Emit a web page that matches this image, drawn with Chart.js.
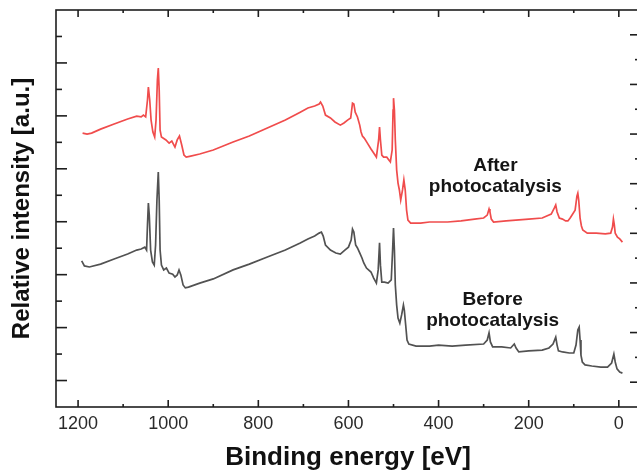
<!DOCTYPE html>
<html>
<head>
<meta charset="utf-8">
<script src="https://cdn.jsdelivr.net/npm/chart.js@4.4.1/dist/chart.umd.min.js"></script>
<style>
  html, body { margin: 0; padding: 0; overflow: hidden; background: #fff; }
</style>
</head>
<body>
<canvas id="xps" width="645" height="475"></canvas>
<script>
// XPS survey spectra (binding energy in eV, intensity in a.u.)
const afterEnergy = [1190, 1180, 1170, 1150, 1120, 1090, 1070, 1060, 1055, 1050, 1046, 1044, 1041, 1038, 1034, 1030, 1027, 1024, 1022, 1020, 1018, 1015, 1005, 998, 992, 985, 980, 975, 970, 965, 960, 950, 930, 900, 856, 820, 780, 740, 707, 690, 675, 665, 662, 657, 651, 640, 630, 618, 610, 602, 595, 591, 588, 585, 580, 575, 572, 569, 565, 558, 550, 544, 538, 533, 531, 529, 526, 522, 515, 507, 503, 501, 500, 498, 496, 493, 490, 487, 484, 480, 477, 474, 471, 468, 462, 440, 420, 400, 380, 350, 320, 300, 292, 288, 286, 283, 278, 250, 200, 170, 160, 150, 143, 140, 137, 132, 125, 118, 113, 108, 97, 93, 91, 89, 86, 83, 80, 70, 50, 30, 18, 14, 12, 10, 8, 3, -2, -8];
const afterIntensity = [10.35, 10.31, 10.35, 10.50, 10.69, 10.88, 10.99, 10.96, 11.03, 10.96, 11.60, 12.09, 11.60, 10.84, 10.39, 10.20, 10.84, 12.35, 12.81, 11.98, 10.46, 10.20, 10.09, 9.97, 10.05, 9.82, 10.09, 10.24, 9.90, 9.52, 9.44, 9.48, 9.56, 9.71, 10.01, 10.24, 10.54, 10.84, 11.14, 11.30, 11.37, 11.45, 11.52, 11.37, 11.03, 10.92, 10.77, 10.65, 10.73, 10.84, 10.92, 11.48, 11.45, 11.14, 10.96, 10.65, 10.39, 10.24, 10.16, 9.97, 9.75, 9.60, 9.44, 10.09, 10.58, 10.09, 9.52, 9.44, 9.44, 9.26, 9.71, 11.22, 11.67, 11.22, 10.09, 8.95, 8.46, 8.20, 7.82, 8.20, 8.58, 8.20, 7.44, 7.06, 6.95, 6.95, 6.99, 6.99, 6.99, 7.03, 7.10, 7.14, 7.25, 7.48, 7.37, 7.10, 6.99, 7.03, 7.10, 7.14, 7.22, 7.29, 7.52, 7.63, 7.37, 7.14, 7.10, 7.03, 7.03, 7.14, 7.44, 7.97, 8.08, 7.82, 7.14, 6.84, 6.69, 6.57, 6.57, 6.54, 6.57, 6.80, 7.10, 6.88, 6.57, 6.42, 6.35, 6.23];

const beforeEnergy = [1192, 1186, 1175, 1150, 1120, 1090, 1070, 1060, 1052, 1048, 1046, 1044, 1042, 1039, 1035, 1031, 1028, 1025, 1022, 1020, 1018, 1015, 1010, 1004, 998, 990, 985, 980, 976, 972, 967, 962, 955, 930, 900, 856, 820, 780, 740, 707, 690, 675, 665, 660, 656, 651, 640, 628, 618, 608, 600, 594, 591, 588, 584, 580, 575, 570, 566, 560, 550, 544, 538, 534, 531, 529, 526, 520, 512, 505, 502, 500, 498, 496, 493, 490, 486, 482, 478, 476, 473, 470, 466, 450, 420, 400, 370, 340, 300, 292, 288, 285, 280, 260, 240, 232, 228, 222, 200, 170, 155, 146, 140, 137, 134, 125, 110, 100, 95, 91, 88, 86, 84, 81, 75, 60, 40, 25, 16, 11, 8, 4, -2, -8];
const beforeIntensity = [5.52, 5.33, 5.29, 5.40, 5.59, 5.78, 5.93, 5.97, 6.04, 5.93, 6.88, 7.71, 7.25, 5.93, 5.48, 5.36, 6.12, 7.82, 8.88, 7.82, 5.93, 5.36, 5.18, 5.25, 5.06, 5.02, 4.91, 4.99, 5.18, 4.99, 4.61, 4.50, 4.53, 4.68, 4.84, 5.18, 5.40, 5.67, 5.93, 6.20, 6.35, 6.46, 6.57, 6.61, 6.46, 6.12, 5.93, 5.82, 5.78, 5.93, 6.04, 6.31, 6.72, 6.61, 6.12, 6.01, 5.82, 5.63, 5.44, 5.25, 5.10, 4.87, 4.68, 5.18, 6.20, 5.36, 4.72, 4.72, 4.68, 4.80, 5.93, 6.76, 5.93, 4.61, 3.85, 3.36, 3.17, 3.48, 3.85, 3.66, 3.10, 2.53, 2.38, 2.30, 2.30, 2.34, 2.30, 2.34, 2.38, 2.53, 2.80, 2.46, 2.27, 2.27, 2.23, 2.38, 2.23, 2.08, 2.12, 2.15, 2.23, 2.38, 2.64, 2.34, 2.12, 2.08, 2.04, 2.04, 2.34, 2.91, 3.02, 2.53, 1.96, 1.70, 1.59, 1.55, 1.51, 1.51, 1.66, 2.00, 1.70, 1.44, 1.32, 1.28];

const xTicks = [0, 100, 200, 300, 400, 500, 600, 700, 800, 900, 1000, 1100, 1200];
const yLeftTicks = [1, 2, 3, 4, 5, 6, 7, 8, 9, 10, 11, 12, 13, 14];
const yRightTicks = [1, 2, 3, 4, 5, 6, 7, 8, 9, 10, 11, 12, 13, 14, 15];

const notes = [
  { lines: ['After', 'photocatalysis'], x: 274, y: [9.12, 8.31] },
  { lines: ['Before', 'photocatalysis'], x: 280, y: [4.06, 3.25] }
];

const pts = (xs, ys) => xs.map((x, i) => ({ x, y: ys[i] }));

// frame, inward tick marks and the two text labels
const framePlugin = {
  id: 'frame',
  afterDatasetsDraw(chart) {
    const { ctx, chartArea: a, scales: { x, y, y2 } } = chart;
    const seg = (x1, y1, x2, y2_) => { ctx.beginPath(); ctx.moveTo(x1, y1); ctx.lineTo(x2, y2_); ctx.stroke(); };
    ctx.save();
    ctx.strokeStyle = '#1e1e1e';
    ctx.lineWidth = 1.6;
    ctx.strokeRect(a.left, a.top, a.right - a.left, a.bottom - a.top);

    xTicks.forEach(v => {
      const px = x.getPixelForValue(v);
      const len = v % 200 === 0 ? 7 : 3;
      seg(px, a.bottom, px, a.bottom - len);
      seg(px, a.top, px, a.top + len);
    });
    yLeftTicks.forEach(v => {
      const py = y.getPixelForValue(v);
      seg(a.left, py, a.left + (v % 2 ? 11 : 6), py);
    });
    yRightTicks.forEach(v => {
      const py = y2.getPixelForValue(v);
      seg(a.right, py, a.right - (v % 2 ? 10 : 5), py);
    });

    ctx.fillStyle = '#151515';
    ctx.font = 'bold 19px "Liberation Sans", Arial, sans-serif';
    ctx.textAlign = 'center';
    ctx.textBaseline = 'middle';
    notes.forEach(n => {
      n.lines.forEach((t, i) => ctx.fillText(t, x.getPixelForValue(n.x), y.getPixelForValue(n.y[i])));
    });
    ctx.restore();
  }
};

const font = '"Liberation Sans", Arial, sans-serif';

new Chart(document.getElementById('xps'), {
  type: 'line',
  data: {
    datasets: [
      { label: 'After photocatalysis', data: pts(afterEnergy, afterIntensity), borderColor: '#f04c4c', borderWidth: 1.7 },
      { label: 'Before photocatalysis', data: pts(beforeEnergy, beforeIntensity), borderColor: '#525252', borderWidth: 1.7 }
    ]
  },
  options: {
    responsive: false,
    animation: false,
    parsing: false,
    layout: { padding: { top: 10 } },
    elements: { point: { radius: 0 }, line: { tension: 0 } },
    plugins: { legend: { display: false }, tooltip: { enabled: false } },
    scales: {
      x: {
        type: 'linear',
        reverse: true,
        min: -47,
        max: 1249,
        grid: { display: false, drawTicks: false },
        border: { display: false },
        afterBuildTicks: s => { s.ticks = xTicks.map(value => ({ value })); },
        afterFit: s => { s.height = 68; },
        ticks: {
          autoSkip: false,
          maxRotation: 0,
          padding: 6,
          color: '#2a2a2a',
          font: { family: font, size: 18 },
          callback: v => (v % 200 === 0 ? String(v) : '')
        },
        title: {
          display: true,
          text: 'Binding energy [eV]',
          color: '#111',
          font: { family: font, size: 26, weight: 'bold' },
          padding: { top: 0, bottom: 2 }
        }
      },
      y: {
        position: 'left',
        min: 0,
        max: 15,
        grid: { display: false, drawTicks: false },
        border: { display: false },
        ticks: { display: false },
        afterFit: s => { s.width = 56; },
        title: {
          display: true,
          text: 'Relative intensity [a.u.]',
          color: '#111',
          font: { family: font, size: 24, weight: 'bold' },
          padding: { top: 8, bottom: 0 }
        }
      },
      y2: {
        position: 'right',
        min: 0,
        max: 16,
        grid: { display: false, drawTicks: false },
        border: { display: false },
        ticks: { display: false },
        afterFit: s => { s.width = 5; }
      }
    }
  },
  plugins: [framePlugin]
});
</script>
</body>
</html>
